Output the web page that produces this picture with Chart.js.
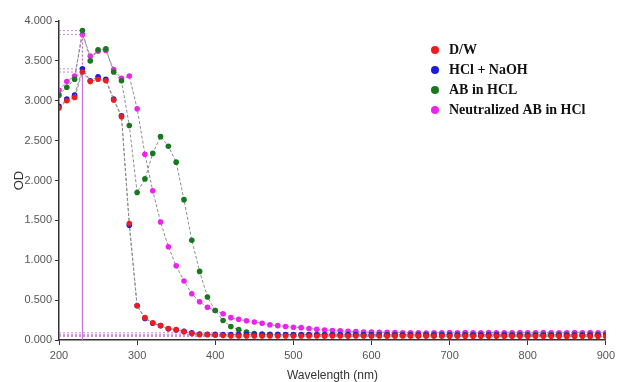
<!DOCTYPE html>
<html>
<head>
<meta charset="utf-8">
<script src="https://cdn.jsdelivr.net/npm/chart.js@4.4.1/dist/chart.umd.min.js"></script>
<style>
  html, body { margin: 0; padding: 0; background: #fff; }
  #wrap { width: 619px; height: 382px; position: relative; }
</style>
</head>
<body>
<div id="wrap"><canvas id="chart" width="619" height="382"></canvas></div>
<script>
// Wavelength (nm), 10 nm steps
const wavelengths = [
  200, 210, 220, 230, 240, 250, 260, 270, 280, 290,
  300, 310, 320, 330, 340, 350, 360, 370, 380, 390,
  400, 410, 420, 430, 440, 450, 460, 470, 480, 490,
  500, 510, 520, 530, 540, 550, 560, 570, 580, 590,
  600, 610, 620, 630, 640, 650, 660, 670, 680, 690,
  700, 710, 720, 730, 740, 750, 760, 770, 780, 790,
  800, 810, 820, 830, 840, 850, 860, 870, 880, 890,
  900,
];

const seriesLabels = ['D/W', 'HCl + NaOH', 'AB in HCL', 'Neutralized AB in HCl'];
const seriesColors = ['#ee1c1c', '#1c1ce0', '#17781f', '#ee22ee'];

const dw = [
  2.91, 3.00, 3.04, 3.36, 3.24, 3.27, 3.25, 3.01, 2.80, 1.46,
  0.43, 0.28, 0.215, 0.18, 0.145, 0.13, 0.105, 0.08, 0.066, 0.066,
  0.06, 0.055, 0.05, 0.05, 0.05, 0.05, 0.05, 0.05, 0.05, 0.05,
  0.05, 0.05, 0.05, 0.05, 0.048, 0.05, 0.05, 0.048, 0.05, 0.05,
  0.048, 0.05, 0.048, 0.048, 0.05, 0.048, 0.048, 0.048, 0.048, 0.048,
  0.047, 0.048, 0.047, 0.047, 0.047, 0.047, 0.047, 0.046, 0.047, 0.046,
  0.046, 0.046, 0.046, 0.046, 0.046, 0.045, 0.045, 0.046, 0.045, 0.045,
  0.045,
];

const hclNaoh = [
  2.93, 3.02, 3.07, 3.40, 3.25, 3.30, 3.27, 3.02, 2.81, 1.44,
  0.43, 0.27, 0.21, 0.18, 0.14, 0.125, 0.11, 0.09, 0.075, 0.072,
  0.07, 0.068, 0.068, 0.068, 0.067, 0.067, 0.067, 0.066, 0.066, 0.066,
  0.066, 0.065, 0.065, 0.065, 0.065, 0.065, 0.064, 0.064, 0.064, 0.064,
  0.064, 0.063, 0.063, 0.063, 0.063, 0.063, 0.062, 0.062, 0.062, 0.062,
  0.062, 0.062, 0.061, 0.061, 0.061, 0.061, 0.061, 0.061, 0.06, 0.06,
  0.06, 0.06, 0.06, 0.06, 0.06, 0.06, 0.06, 0.06, 0.06, 0.06,
  0.06,
];

const abInHcl = [
  3.07, 3.17, 3.27, 3.88, 3.50, 3.64, 3.65, 3.36, 3.25, 2.69,
  1.85, 2.02, 2.34, 2.55, 2.43, 2.23, 1.76, 1.25, 0.86, 0.54,
  0.37, 0.245, 0.17, 0.13, 0.10, 0.08, 0.075, 0.07, 0.07, 0.068,
  0.068, 0.068, 0.068, 0.067, 0.067, 0.067, 0.067, 0.067, 0.066, 0.066,
  0.066, 0.066, 0.066, 0.066, 0.066, 0.066, 0.066, 0.065, 0.065, 0.065,
  0.065, 0.065, 0.065, 0.065, 0.065, 0.065, 0.065, 0.065, 0.065, 0.065,
  0.065, 0.065, 0.065, 0.065, 0.065, 0.065, 0.065, 0.065, 0.065, 0.065,
  0.065,
];

const neutralized = [
  3.13, 3.24, 3.31, 3.83, 3.56, 3.62, 3.63, 3.39, 3.28, 3.31,
  2.90, 2.33, 1.87, 1.48, 1.17, 0.93, 0.74, 0.58, 0.48, 0.41,
  0.37, 0.33, 0.28, 0.26, 0.24, 0.225, 0.21, 0.19, 0.18, 0.17,
  0.16, 0.155, 0.145, 0.135, 0.125, 0.12, 0.115, 0.11, 0.105, 0.10,
  0.10, 0.098, 0.095, 0.093, 0.09, 0.09, 0.09, 0.088, 0.09, 0.09,
  0.092, 0.09, 0.092, 0.09, 0.09, 0.092, 0.09, 0.09, 0.09, 0.092,
  0.09, 0.09, 0.092, 0.09, 0.09, 0.09, 0.092, 0.09, 0.092, 0.09,
  0.09,
];

const seriesValues = [dw, hclNaoh, abInHcl, neutralized];

const xTicks = [200, 300, 400, 500, 600, 700, 800, 900];
const yTicks = [0, 0.5, 1, 1.5, 2, 2.5, 3, 3.5, 4];

const tickFont = { family: "'Liberation Sans Narrow', 'Arial Narrow', 'Liberation Sans', Arial, sans-serif", size: 11 };

// Plugin: dotted drop lines from each series' peak, plus a baseline at its last value
const guideLines = {
  id: 'guideLines',
  beforeDatasetsDraw(chart) {
    const { ctx, scales: { x, y } } = chart;
    ctx.save();
    ctx.lineWidth = 1;
    ctx.setLineDash([2, 2]);
    ctx.strokeStyle = 'rgba(195,100,210,0.8)';
    seriesValues.forEach((vals) => {
      let peak = 0;
      vals.forEach((v, i) => { if (v > vals[peak]) peak = i; });
      const px = x.getPixelForValue(wavelengths[peak]);
      const py = y.getPixelForValue(vals[peak]);
      ctx.beginPath();
      ctx.moveTo(x.left, py); ctx.lineTo(px, py);
      ctx.moveTo(px, py); ctx.lineTo(px, y.getPixelForValue(0));
      const ly = y.getPixelForValue(vals[vals.length - 1]);
      ctx.moveTo(x.left, ly); ctx.lineTo(x.right, ly);
      ctx.stroke();
    });
    ctx.restore();
  },
};

// Plugin: legend drawn inside the plot, top right
const innerLegend = {
  id: 'innerLegend',
  afterDraw(chart) {
    const { ctx } = chart;
    ctx.save();
    ctx.font = "bold 14px 'Liberation Serif', 'Times New Roman', serif";
    ctx.textBaseline = 'middle';
    ctx.textAlign = 'left';
    chart.data.datasets.forEach((ds, i) => {
      const yy = 50 + i * 20;
      ctx.fillStyle = ds.pointBackgroundColor;
      ctx.beginPath();
      ctx.arc(435, yy, 4, 0, Math.PI * 2);
      ctx.fill();
      ctx.fillStyle = '#111';
      ctx.fillText(ds.label, 449, yy);
    });
    ctx.restore();
  },
};

new Chart(document.getElementById('chart'), {
  type: 'line',
  data: {
    datasets: seriesLabels.map((label, i) => ({
      label,
      data: wavelengths.map((w, j) => ({ x: w, y: seriesValues[i][j] })),
      borderColor: '#8c8c8c',
      borderWidth: 1,
      borderDash: [3, 2],
      pointRadius: 2.8,
      pointBorderWidth: 0,
      pointBackgroundColor: seriesColors[i],
      pointBorderColor: seriesColors[i],
      tension: 0,
      fill: false,
    })),
  },
  options: {
    responsive: false,
    animation: false,
    devicePixelRatio: 1,
    layout: { padding: { top: 21, right: 11, bottom: 0, left: 0 } },
    plugins: {
      legend: { display: false },
      tooltip: { enabled: false },
    },
    scales: {
      x: {
        type: 'linear',
        min: 200, max: 900,
        afterBuildTicks: (s) => { s.ticks = xTicks.map(v => ({ value: v })); },
        afterFit: (s) => { s.height = 42; },
        grid: { display: true, drawOnChartArea: false, drawTicks: true, tickLength: 5, color: '#333', tickColor: '#333' },
        border: { display: true, color: '#333', width: 1.5 },
        ticks: { color: '#555', font: tickFont, padding: 4, maxRotation: 0 },
        title: {
          display: true, text: 'Wavelength (nm)', color: '#333',
          font: { family: "'Liberation Sans', Arial, sans-serif", size: 12, lineHeight: 1 },
          padding: { top: 0, bottom: 0 },
        },
      },
      y: {
        min: 0, max: 4,
        afterBuildTicks: (s) => { s.ticks = yTicks.map(v => ({ value: v })); },
        afterFit: (s) => { s.width = 59; },
        grid: { display: true, drawOnChartArea: false, drawTicks: true, tickLength: 4, color: '#333', tickColor: '#333' },
        border: { display: true, color: '#333', width: 1.5 },
        ticks: { color: '#555', font: tickFont, padding: 3, callback: (v) => v.toFixed(3) },
        title: {
          display: true, text: 'OD', color: '#333',
          font: { family: "'Liberation Sans', Arial, sans-serif", size: 13, lineHeight: 1.2 },
          padding: { top: 12, bottom: 0 },
        },
      },
    },
  },
  plugins: [guideLines, innerLegend],
});
</script>
</body>
</html>
